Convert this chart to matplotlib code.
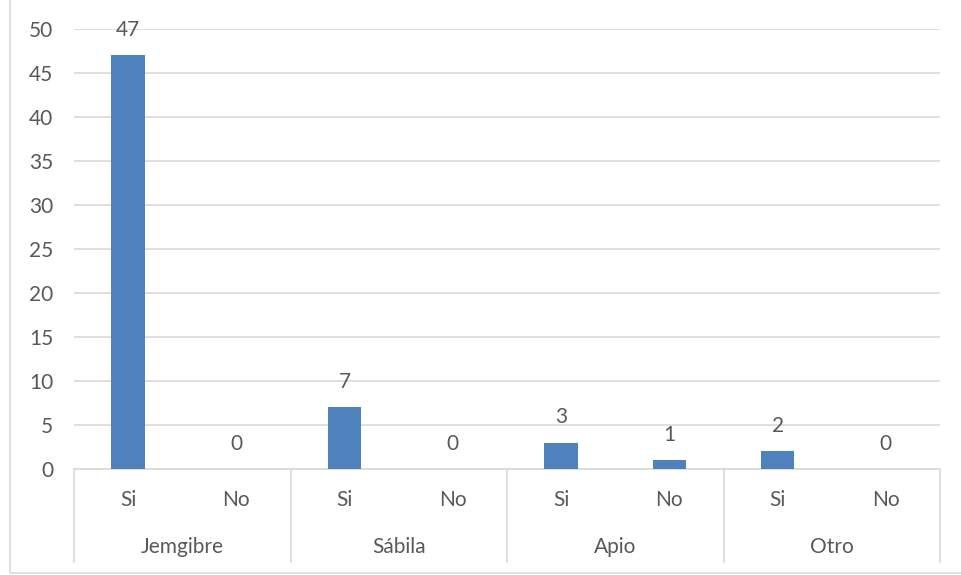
import matplotlib.pyplot as plt
from matplotlib.patches import Rectangle
import matplotlib.transforms as mtransforms

# Responses per remedy, two answers each
groups = ["Jemgibre", "Sábila", "Apio", "Otro"]
answers = ["Si", "No"]
counts = [47, 0, 7, 0, 3, 1, 2, 0]

text_color = "#595959"
grid_color = "#d9d9d9"
bar_color = "#4f81bd"

plt.rcParams["font.family"] = ["Lato", "DejaVu Sans"]

fig = plt.figure(figsize=(9.61, 5.75), dpi=100)
ax = fig.add_axes([74 / 961, 106 / 575, 866 / 961, 440 / 575])

x = list(range(len(counts)))
bars = ax.bar(x, counts, width=0.31, color=bar_color, zorder=3)

# Value labels above each bar
for rect, v in zip(bars, counts):
	ax.annotate(
		str(v),
		(rect.get_x() + rect.get_width() / 2, rect.get_height()),
		xytext=(0, 11),
		textcoords="offset points",
		ha="center",
		va="bottom",
		fontsize=15,
		color=text_color,
	)

ax.set_xlim(-0.5, len(counts) - 0.5)
ax.set_ylim(0, 50)
ax.set_yticks(range(0, 51, 5))
ax.yaxis.grid(True, color=grid_color, linewidth=1.2, zorder=0)
ax.set_axisbelow(True)

for side in ["left", "right", "top"]:
	ax.spines[side].set_visible(False)
ax.spines["bottom"].set_color(grid_color)
ax.spines["bottom"].set_linewidth(1.2)

ax.tick_params(axis="y", length=0, pad=15, labelsize=15, labelcolor=text_color)
ax.set_xticks(x)
ax.set_xticklabels(answers * len(groups))
ax.tick_params(axis="x", length=0, pad=15, labelsize=15, labelcolor=text_color)

# Second level of the category axis: group names and separators
trans = mtransforms.blended_transform_factory(ax.transData, ax.transAxes)
depth = -93 / 440
for i in range(len(groups) + 1):
	xpos = i * 2 - 0.5
	ax.plot([xpos, xpos], [0, depth], transform=trans, color=grid_color,
		linewidth=1.2, clip_on=False)
for i, name in enumerate(groups):
	ax.text(i * 2 + 0.5, -78 / 440, name, transform=trans, ha="center",
		va="center", fontsize=15, color=text_color)

# Chart frame
fig.patches.append(Rectangle((10 / 961, 2 / 575), 1.0, 1.0, transform=fig.transFigure,
	fill=False, edgecolor=grid_color, linewidth=1.2))

fig.savefig("out.png", dpi=100)
